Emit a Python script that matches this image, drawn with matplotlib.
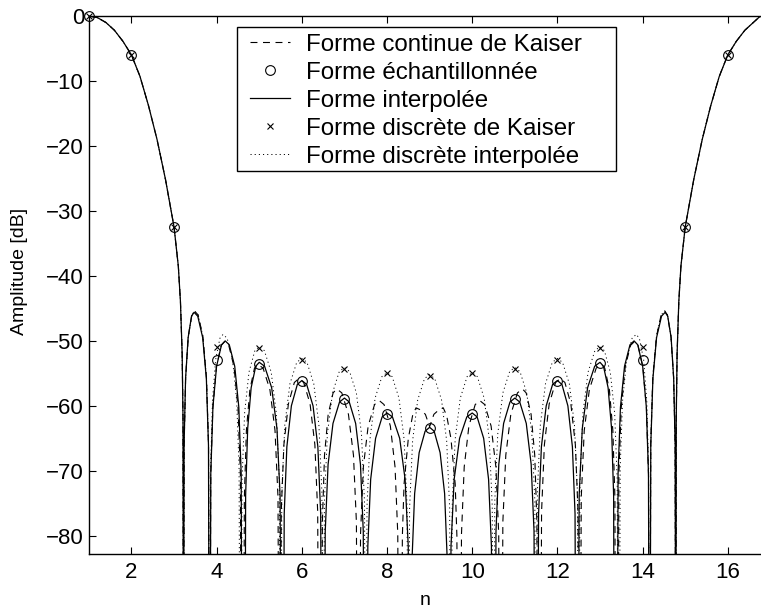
import numpy as np
import matplotlib
matplotlib.use("Agg")
import matplotlib.pyplot as plt
from matplotlib.patches import Rectangle

plt.rcParams['font.family'] = ['Liberation Sans', 'DejaVu Sans']
plt.rcParams['lines.scale_dashes'] = False

# main lobe (same for all three curves), left and right halves
main_left_x = [1.0, 1.2, 1.4, 1.6, 1.8, 2.0, 2.2, 2.4, 2.6, 2.8, 3.0, 3.1, 3.15, 3.19, 3.21, 3.22]
main_left_y = [0, -0.25, -1.0, -2.2, -3.9, -6.0, -9.3, -13.8, -19.0, -25.2, -32.5, -38.5, -44, -52, -62, -120]
main_right_x = [14.78, 14.79, 14.81, 14.85, 14.9, 15.0, 15.2, 15.4, 15.6, 15.8, 16.0, 16.2, 16.4, 16.6, 16.75, 17.0]
main_right_y = [-120, -62, -52, -44, -38.5, -32.5, -25.2, -19.0, -13.8, -9.3, -6.0, -3.9, -2.2, -1.0, -0.1, 0]

# Forme interpolée (solid) - side lobes
interp_x = [
    3.22, 3.235, 3.27, 3.33, 3.41, 3.47, 3.556, 3.672, 3.758, 3.808, 3.83,
    3.84, 3.862, 3.912, 3.998, 4.114, 4.2, 4.296, 4.424, 4.52, 4.576, 4.6,
    4.66, 4.68, 4.728, 4.81, 4.918, 5.0, 5.125, 5.291, 5.416, 5.489, 5.52,
    5.56, 5.586, 5.648, 5.754, 5.894, 6.0, 6.113, 6.263, 6.376, 6.442, 6.47,
    6.52, 6.549, 6.616, 6.731, 6.885, 7.0, 7.113, 7.263, 7.376, 7.442, 7.47,
    7.52, 7.549, 7.616, 7.731, 7.885, 8.0, 8.127, 8.297, 8.424, 8.498, 8.53,
    8.56, 8.586, 8.648, 8.754, 8.894, 9.0, 9.106, 9.246, 9.352, 9.414, 9.44,
    9.47, 9.502, 9.576, 9.703, 9.873, 10.0, 10.115, 10.269, 10.384, 10.451, 10.48,
    10.53, 10.558, 10.624, 10.737, 10.887, 11.0, 11.115, 11.269, 11.384, 11.451, 11.48,
    11.53, 11.558, 11.624, 11.737, 11.887, 12.0, 12.106, 12.246, 12.352, 12.414, 12.44,
    12.48, 12.511, 12.584, 12.709, 12.875, 13.0, 13.082, 13.19, 13.272, 13.32, 13.34,
    13.4, 13.424, 13.48, 13.576, 13.704, 13.8, 13.886, 14.002, 14.088, 14.138, 14.16,
    14.17, 14.192, 14.242, 14.328, 14.444, 14.53, 14.59, 14.67, 14.73, 14.765, 14.78]
interp_y = [
    -120, -66.1, -55.8, -49.5, -46.2, -45.6, -46.2, -49.5, -55.8, -66.1, -120,
    -120, -70.5, -60.2, -53.9, -50.6, -50.0, -50.6, -53.9, -60.2, -70.5, -120,
    -120, -73.8, -63.5, -57.2, -53.9, -53.3, -53.9, -57.2, -63.5, -73.8, -120,
    -120, -76.6, -66.3, -60.0, -56.7, -56.1, -56.7, -60.0, -66.3, -76.6, -120,
    -120, -79.3, -69.0, -62.7, -59.4, -58.8, -59.4, -62.7, -69.0, -79.3, -120,
    -120, -81.6, -71.3, -65.0, -61.7, -61.1, -61.7, -65.0, -71.3, -81.6, -120,
    -120, -83.8, -73.5, -67.2, -63.9, -63.3, -63.9, -67.2, -73.5, -83.8, -120,
    -120, -81.6, -71.3, -65.0, -61.7, -61.1, -61.7, -65.0, -71.3, -81.6, -120,
    -120, -79.3, -69.0, -62.7, -59.4, -58.8, -59.4, -62.7, -69.0, -79.3, -120,
    -120, -76.6, -66.3, -60.0, -56.7, -56.1, -56.7, -60.0, -66.3, -76.6, -120,
    -120, -73.8, -63.5, -57.2, -53.9, -53.3, -53.9, -57.2, -63.5, -73.8, -120,
    -120, -70.5, -60.2, -53.9, -50.6, -50.0, -50.6, -53.9, -60.2, -70.5, -120,
    -120, -66.1, -55.8, -49.5, -46.2, -45.6, -46.2, -49.5, -55.8, -66.1, -120]

# Forme continue de Kaiser (dashed) - side lobes
kaiser_x = [
    3.22, 3.236, 3.272, 3.334, 3.418, 3.48, 3.564, 3.676, 3.76, 3.809, 3.83,
    3.84, 3.861, 3.91, 3.994, 4.106, 4.19, 4.284, 4.408, 4.502, 4.557, 4.58,
    4.63, 4.65, 4.698, 4.78, 4.888, 4.97, 5.09, 5.25, 5.37, 5.44, 5.47,
    5.49, 5.516, 5.578, 5.684, 5.824, 5.93, 6.043, 6.193, 6.306, 6.372, 6.4,
    6.46, 6.482, 6.532, 6.618, 6.734, 6.82, 6.938, 7.094, 7.212, 7.281, 7.31,
    7.35, 7.378, 7.444, 7.557, 7.707, 7.82, 7.93, 8.078, 8.188, 8.252, 8.28,
    8.33, 8.36, 8.4, 8.5, 8.6, 8.68, 8.78, 8.9, 9.0, 9.1, 9.22, 9.32, 9.4, 9.5, 9.6, 9.64, 9.67,
    9.72, 9.748, 9.812, 9.922, 10.07, 10.18, 10.293, 10.443, 10.556, 10.622, 10.65,
    10.69, 10.719, 10.788, 10.906, 11.062, 11.18, 11.266, 11.382, 11.468, 11.518, 11.54,
    11.6, 11.628, 11.694, 11.807, 11.957, 12.07, 12.176, 12.316, 12.422, 12.484, 12.51,
    12.53, 12.56, 12.63, 12.75, 12.91, 13.03, 13.112, 13.22, 13.302, 13.35, 13.37,
    13.42, 13.443, 13.498, 13.592, 13.716, 13.81, 13.894, 14.006, 14.09, 14.139, 14.16,
    14.17, 14.191, 14.24, 14.326, 14.436, 14.52, 14.582, 14.666, 14.728, 14.764, 14.78]
kaiser_y = [
    -120, -65.9, -55.6, -49.3, -46.0, -45.4, -46.0, -49.3, -55.6, -65.9, -120,
    -120, -70.6, -60.3, -54.0, -50.7, -50.1, -50.7, -54.0, -60.3, -70.6, -120,
    -120, -74.1, -63.8, -57.5, -54.2, -53.6, -54.2, -57.5, -63.8, -74.1, -120,
    -120, -76.3, -66.0, -59.7, -56.4, -55.8, -56.4, -59.7, -66.0, -76.3, -120,
    -120, -77.9, -67.6, -61.3, -58.0, -57.4, -58.0, -61.3, -67.6, -77.9, -120,
    -120, -79.7, -69.4, -63.1, -59.8, -59.2, -59.8, -63.1, -69.4, -79.7, -120,
    -120, -80, -72, -65, -61.5, -60.3, -60.6, -61.3, -63.2, -61.3, -60.6, -60.3, -61.5, -65, -72, -80, -120,
    -120, -79.7, -69.4, -63.1, -59.8, -59.2, -59.8, -63.1, -69.4, -79.7, -120,
    -120, -77.9, -67.6, -61.3, -58.0, -57.4, -58.0, -61.3, -67.6, -77.9, -120,
    -120, -76.3, -66.0, -59.7, -56.4, -55.8, -56.4, -59.7, -66.0, -76.3, -120,
    -120, -74.1, -63.8, -57.5, -54.2, -53.6, -54.2, -57.5, -63.8, -74.1, -120,
    -120, -70.6, -60.3, -54.0, -50.7, -50.1, -50.7, -54.0, -60.3, -70.6, -120,
    -120, -65.9, -55.6, -49.3, -46.0, -45.4, -46.0, -49.3, -55.6, -65.9, -120]

# Forme discrète interpolée (dotted) - side lobes
dinterp_x = [
    3.22, 3.236, 3.272, 3.334, 3.418, 3.48, 3.564, 3.676, 3.76, 3.809, 3.83,
    3.84, 3.859, 3.902, 3.976, 4.076, 4.15, 4.246, 4.374, 4.47, 4.526, 4.55,
    4.57, 4.596, 4.656, 4.759, 4.897, 5.0, 5.12, 5.28, 5.4, 5.47, 5.5,
    5.5, 5.53, 5.6, 5.72, 5.88, 6.0, 6.12, 6.28, 6.4, 6.47, 6.5,
    6.5, 6.53, 6.6, 6.72, 6.88, 7.0, 7.12, 7.28, 7.4, 7.47, 7.5,
    7.5, 7.53, 7.6, 7.72, 7.88, 8.0, 8.12, 8.28, 8.4, 8.47, 8.5,
    8.5, 8.53, 8.6, 8.72, 8.88, 9.0, 9.12, 9.28, 9.4, 9.47, 9.5,
    9.5, 9.53, 9.6, 9.72, 9.88, 10.0, 10.12, 10.28, 10.4, 10.47, 10.5,
    10.5, 10.53, 10.6, 10.72, 10.88, 11.0, 11.12, 11.28, 11.4, 11.47, 11.5,
    11.5, 11.53, 11.6, 11.72, 11.88, 12.0, 12.12, 12.28, 12.4, 12.47, 12.5,
    12.5, 12.53, 12.6, 12.72, 12.88, 13.0, 13.103, 13.241, 13.344, 13.404, 13.43,
    13.45, 13.474, 13.53, 13.626, 13.754, 13.85, 13.924, 14.024, 14.098, 14.141, 14.16,
    14.17, 14.191, 14.24, 14.326, 14.436, 14.52, 14.582, 14.666, 14.728, 14.764, 14.78]
dinterp_y = [
    -120, -65.9, -55.6, -49.3, -46.0, -45.4, -46.0, -49.3, -55.6, -65.9, -120,
    -120, -69.5, -59.2, -52.9, -49.6, -49.0, -49.6, -52.9, -59.2, -69.5, -120,
    -120, -71.4, -61.1, -54.8, -51.5, -50.9, -51.5, -54.8, -61.1, -71.4, -120,
    -120, -73.2, -62.9, -56.6, -53.3, -52.7, -53.3, -56.6, -62.9, -73.2, -120,
    -120, -74.6, -64.3, -58.0, -54.7, -54.1, -54.7, -58.0, -64.3, -74.6, -120,
    -120, -75.4, -65.1, -58.8, -55.5, -54.9, -55.5, -58.8, -65.1, -75.4, -120,
    -120, -75.7, -65.4, -59.1, -55.8, -55.2, -55.8, -59.1, -65.4, -75.7, -120,
    -120, -75.4, -65.1, -58.8, -55.5, -54.9, -55.5, -58.8, -65.1, -75.4, -120,
    -120, -74.6, -64.3, -58.0, -54.7, -54.1, -54.7, -58.0, -64.3, -74.6, -120,
    -120, -73.2, -62.9, -56.6, -53.3, -52.7, -53.3, -56.6, -62.9, -73.2, -120,
    -120, -71.4, -61.1, -54.8, -51.5, -50.9, -51.5, -54.8, -61.1, -71.4, -120,
    -120, -69.5, -59.2, -52.9, -49.6, -49.0, -49.6, -52.9, -59.2, -69.5, -120,
    -120, -65.9, -55.6, -49.3, -46.0, -45.4, -46.0, -49.3, -55.6, -65.9, -120]

# sampled points
n = [1, 2, 3, 4, 5, 6, 7, 8, 9, 10, 11, 12, 13, 14, 15, 16]
sampled = [0, -6.0, -32.5, -53.0, -53.5, -56.2, -58.9, -61.2, -63.4, -61.2, -58.9, -56.2, -53.4, -53.0, -32.5, -6.0]
discrete = [0, -6.0, -32.5, -50.9, -51.1, -52.9, -54.3, -55.0, -55.4, -55.0, -54.3, -52.9, -51.1, -50.9, -32.5, -6.0]

labels = ["Forme continue de Kaiser", "Forme échantillonnée", "Forme interpolée",
          "Forme discrète de Kaiser", "Forme discrète interpolée"]


def full(x, y):
    return (np.concatenate([main_left_x, x, main_right_x]),
            np.concatenate([main_left_y, y, main_right_y]))


fig = plt.figure(figsize=(7.61, 6.08), dpi=100)
ax = fig.add_axes([0.1168, 0.0888, 0.8832, 0.8849])

kx, ky = full(kaiser_x, kaiser_y)
ix, iy = full(interp_x, interp_y)
dx, dy = full(dinterp_x, dinterp_y)

h1, = ax.plot(kx, ky, color='k', lw=0.8, linestyle=(0, (5, 4)))
h3, = ax.plot(ix, iy, color='k', lw=0.9)
h5, = ax.plot(dx, dy, color='k', lw=0.7, linestyle=(0, (0.8, 2.2)))
h2, = ax.plot(n, sampled, 'o', mfc='none', mec='k', ms=7, mew=0.8, clip_on=False)
h4, = ax.plot(n, discrete, 'x', color='k', ms=5, mew=0.8, clip_on=False)

ax.set_xlim(1, 16.78)
ax.set_ylim(-82.8, 0)
ax.set_xticks(range(2, 17, 2))
ax.set_yticks(range(-80, 1, 10))
ax.tick_params(direction='in', top=True, right=False, length=5, labelsize=16, width=0.8)
ax.tick_params(axis='x', pad=6)
ax.spines['right'].set_visible(False)
for s in ['left', 'top', 'bottom']:
    ax.spines[s].set_linewidth(1.0)

ax.set_xlabel("n", fontsize=14, labelpad=6)
ax.set_ylabel("Amplitude [dB]", fontsize=14)
ax.yaxis.set_label_coords(-0.09, 0.526)

# legend box (MATLAB style, wider than the text)
box = Rectangle((0.2199, 0.7113), 0.5644, 0.2688, transform=ax.transAxes,
                facecolor='white', edgecolor='k', lw=1.0, zorder=4)
ax.add_patch(box)
leg = ax.legend([h1, h2, h3, h4, h5], labels, loc='upper left',
                bbox_to_anchor=(0.2397, 0.967), fontsize=17.4, frameon=False,
                handlelength=1.65, handletextpad=0.66, labelspacing=0.25,
                borderpad=0, borderaxespad=0)
leg.set_zorder(5)

fig.savefig("out.png", dpi=100)
